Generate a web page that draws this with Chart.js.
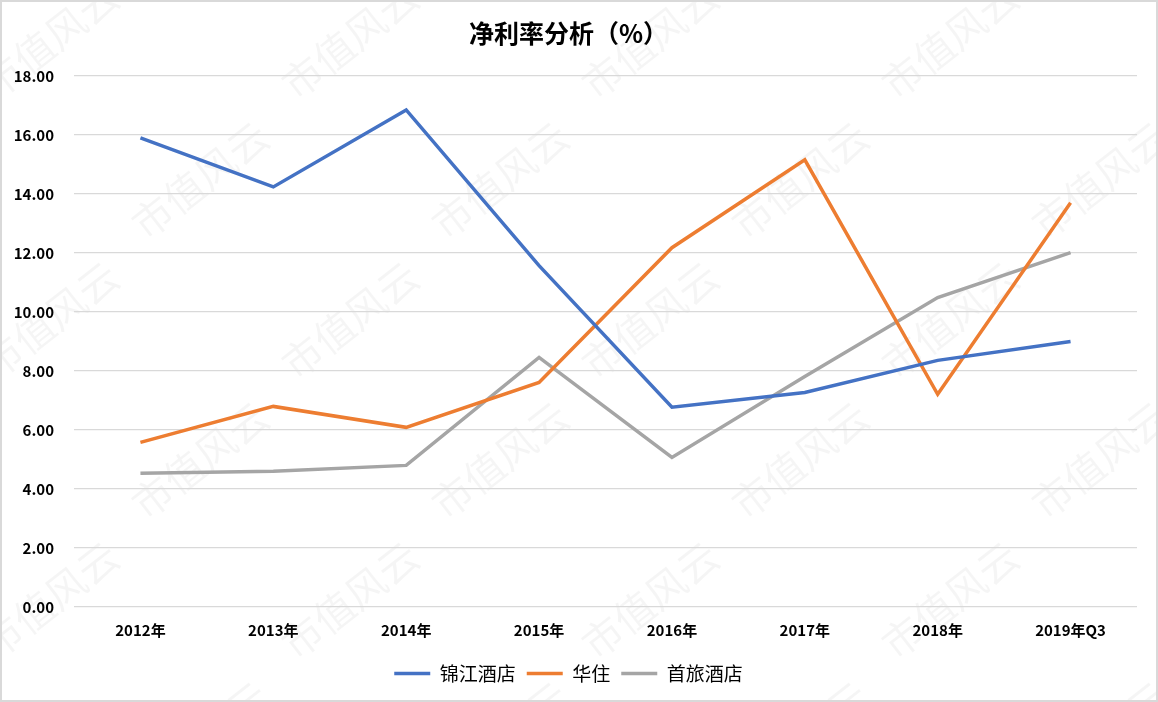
<!DOCTYPE html>
<html>
<head>
<meta charset="utf-8">
<script src="https://cdn.jsdelivr.net/npm/chart.js@4.4.1/dist/chart.umd.min.js"></script>
<style>
html,body{margin:0;padding:0;background:#fff;}
#wrap{width:1158px;height:702px;position:relative;}
</style>
</head>
<body>
<div id="wrap"><canvas id="c" width="1158" height="702"></canvas></div>
<script>
const categories = ['2012年','2013年','2014年','2015年','2016年','2017年','2018年','2019年Q3'];
const jinjiang = [15.90, 14.24, 16.85, 11.57, 6.77, 7.27, 8.36, 9.00];
const huazhu = [5.58, 6.80, 6.09, 7.61, 12.18, 15.16, 7.21, 13.70];
const shoulv = [4.53, 4.60, 4.80, 8.46, 5.07, 7.81, 10.49, 12.01];
const seriesNames = ['锦江酒店','华住','首旅酒店'];
const yTicks = {min: 0, max: 18, step: 2};

const FONT = '"Noto Sans CJK SC", "Noto Sans", sans-serif';

const bgPlugin = {
  id: 'bg',
  beforeDraw(chart) {
    const ctx = chart.ctx;
    ctx.save();
    ctx.fillStyle = '#fff';
    ctx.fillRect(0, 0, chart.width, chart.height);
    // watermark
    ctx.fillStyle = 'rgba(0,0,0,0.04)';
    ctx.font = '40px ' + FONT;
    ctx.textAlign = 'center';
    ctx.textBaseline = 'middle';
    const pts = [];
    for (let r = -1; r < 6; r++) {
      for (let c = -1; c < 6; c++) {
        pts.push([c * 300 + (r % 2 ? 150 : 0) + 50, r * 140 + 40]);
      }
    }
    pts.forEach(p => {
      ctx.save();
      ctx.translate(p[0], p[1]);
      ctx.rotate(-38 * Math.PI / 180);
      ctx.fillText('市值风云', 0, 0);
      ctx.restore();
    });
    ctx.restore();
  },
  afterDraw(chart) {
    const ctx = chart.ctx;
    ctx.save();
    ctx.strokeStyle = '#d9d9d9';
    ctx.lineWidth = 2;
    ctx.strokeRect(1, 1, chart.width - 2, chart.height - 2);
    ctx.restore();
  }
};

new Chart(document.getElementById('c'), {
  type: 'line',
  data: {
    labels: categories,
    datasets: [
      {label: seriesNames[0], data: jinjiang, borderColor: '#4472C4', backgroundColor: '#4472C4'},
      {label: seriesNames[1], data: huazhu, borderColor: '#ED7D31', backgroundColor: '#ED7D31'},
      {label: seriesNames[2], data: shoulv, borderColor: '#A5A5A5', backgroundColor: '#A5A5A5'}
    ].map(d => Object.assign(d, {borderWidth: 3.5, pointRadius: 0, pointHoverRadius: 0, tension: 0, fill: false, pointStyle: 'line'}))
  },
  options: {
    responsive: false,
    animation: false,
    layout: {padding: {left: 0, right: 21, top: 0, bottom: 9}},
    plugins: {
      title: {
        display: true,
        text: '净利率分析（%）',
        color: '#000',
        font: {family: FONT, size: 25, weight: 'bold'},
        padding: {top: 18, bottom: 28}
      },
      legend: {
        position: 'bottom',
        labels: {
          color: '#000',
          font: {family: FONT, size: 19},
          usePointStyle: true,
          pointStyle: 'line',
          pointStyleWidth: 36,
          boxHeight: 19,
          padding: 11
        }
      },
      tooltip: {enabled: false}
    },
    scales: {
      x: {
        offset: true,
        grid: {display: false, drawTicks: false},
        border: {display: false},
        ticks: {color: '#000', font: {family: FONT, size: 15, weight: 'bold'}, padding: 14, maxRotation: 0}
      },
      y: {
        min: yTicks.min,
        max: yTicks.max,
        afterFit(scale) { scale.width = 74; },
        grid: {color: '#d9d9d9', lineWidth: 1.3, drawTicks: false},
        border: {display: false},
        ticks: {
          stepSize: yTicks.step,
          color: '#000',
          font: {family: FONT, size: 15, weight: 'bold'},
          padding: 20,
          callback: v => v.toFixed(2)
        }
      }
    }
  },
  plugins: [bgPlugin]
});
</script>
</body>
</html>
